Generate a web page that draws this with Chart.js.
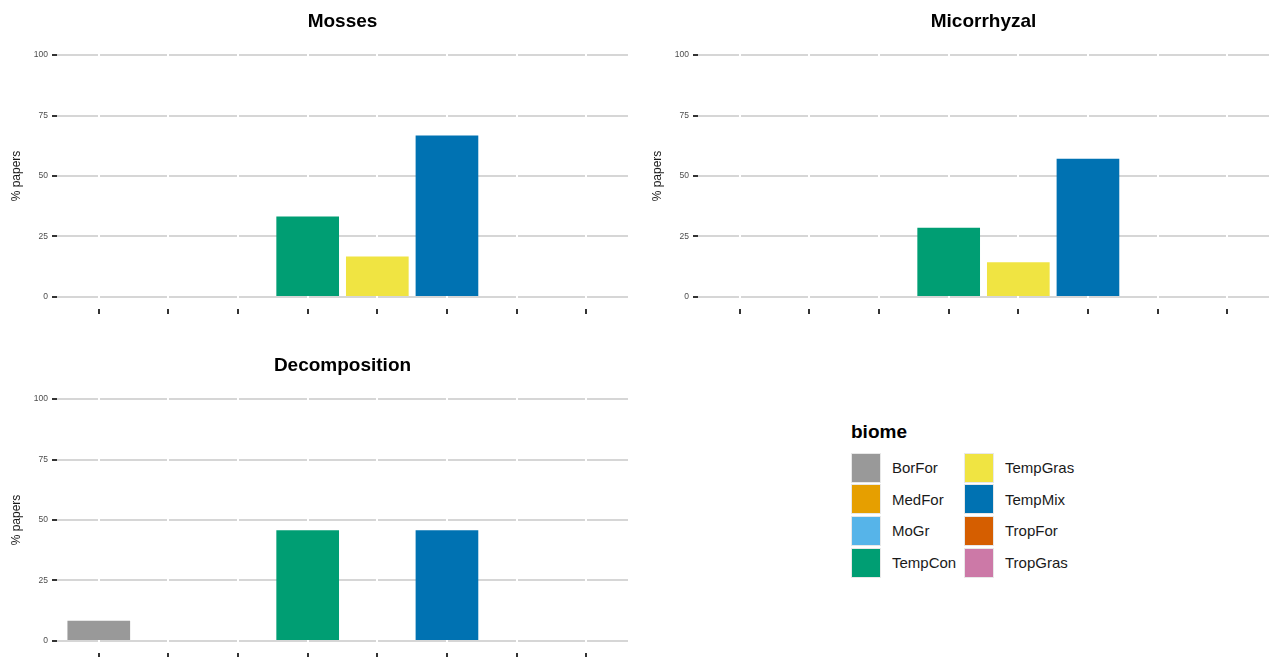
<!DOCTYPE html>
<html>
<head>
<meta charset="utf-8">
<script src="https://cdn.jsdelivr.net/npm/chart.js@4/dist/chart.umd.min.js"></script>
<style>
  body { margin: 0; width: 1269px; height: 657px; overflow: hidden; background: #fff; position: relative; font-family: "Liberation Sans", Arial, sans-serif; }
  .panel { position: absolute; width: 641px; height: 344px; }
  #legend { position: absolute; left: 851px; top: 420px; color: #000; }
  #legend h3 { margin: 0 0 8px 0; font-size: 19px; font-weight: bold; line-height: 24px; }
  #legend .cols { display: flex; }
  #legend .col { width: 113px; }
  #legend .row { display: flex; align-items: center; height: 31.6px; font-size: 15px; color: #1a1a1a; }
  #legend .key { width: 28px; height: 28px; border: 1px solid #e8e8e8; margin-right: 11px; }
</style>
</head>
<body>
<canvas id="mosses" class="panel" width="641" height="344" style="left:0;top:0"></canvas>
<canvas id="micorrhyzal" class="panel" width="641" height="344" style="left:641px;top:0"></canvas>
<canvas id="decomposition" class="panel" width="641" height="344" style="left:0;top:344px"></canvas>
<div id="legend">
  <h3>biome</h3>
  <div class="cols"></div>
</div>
<script>
// ===== data =====
const biomes = ["BorFor", "MedFor", "MoGr", "TempCon", "TempGras", "TempMix", "TropFor", "TropGras"];
const biomeColors = ["#999999", "#E69F00", "#56B4E9", "#009E73", "#F0E442", "#0072B2", "#D55E00", "#CC79A7"];
const mosses = [0, 0, 0, 33.3, 16.7, 66.7, 0, 0];
const micorrhyzal = [0, 0, 0, 28.6, 14.3, 57.1, 0, 0];
const decomposition = [8.3, 0, 0, 45.8, 0, 45.8, 0, 0];
const yTicks = [0, 25, 50, 75, 100];

const font = "'Liberation Sans', Arial, sans-serif";

function makePanel(id, title, values) {
  new Chart(document.getElementById(id), {
    type: 'bar',
    data: {
      datasets: [{
        data: values.map((v, i) => ({ x: i + 1, y: v })),
        backgroundColor: biomeColors,
        borderWidth: 0,
        barPercentage: 0.9,
        categoryPercentage: 1
      }]
    },
    options: {
      responsive: false,
      animation: false,
      devicePixelRatio: 1,
      layout: { padding: { left: 5, right: 13, top: 10, bottom: 0 } },
      plugins: {
        legend: { display: false },
        tooltip: { enabled: false },
        title: {
          display: true,
          text: title,
          fullSize: false,
          color: '#000',
          font: { family: font, size: 19, weight: 'bold' },
          padding: { top: 0, bottom: 10.2 }
        }
      },
      scales: {
        y: {
          type: 'linear',
          min: -5,
          max: 105,
          afterBuildTicks: s => { s.ticks = yTicks.map(v => ({ value: v })); },
          afterFit: s => { s.width = 52; },
          grid: { color: '#d6d6d6', lineWidth: 2, tickColor: '#333', tickLength: 5, tickWidth: 2, z: -1 },
          border: { display: false },
          ticks: { color: '#4d4d4d', font: { family: font, size: 8.5 }, padding: 4 },
          title: { display: true, text: '% papers', color: '#1a1a1a', font: { family: font, size: 12 }, padding: { top: 4, bottom: 0 } }
        },
        x: {
          type: 'linear',
          offset: false,
          min: 0.4,
          max: 8.6,
          afterBuildTicks: s => { s.ticks = biomes.map((b, i) => ({ value: i + 1 })); },
          afterFit: s => { s.height = 35; },
          grid: { offset: false, color: '#ffffff', lineWidth: 2, tickColor: '#333', tickLength: 5, tickWidth: 2 },
          border: { display: false },
          ticks: { display: false }
        }
      }
    }
  });
}

makePanel('mosses', 'Mosses', mosses);
makePanel('micorrhyzal', 'Micorrhyzal', micorrhyzal);
makePanel('decomposition', 'Decomposition', decomposition);

// ===== legend =====
const cols = document.querySelector('#legend .cols');
[0, 4].forEach(start => {
  const col = document.createElement('div');
  col.className = 'col';
  biomes.slice(start, start + 4).forEach((b, j) => {
    const row = document.createElement('div');
    row.className = 'row';
    row.innerHTML = `<div class="key" style="background:${biomeColors[start + j]}"></div><span>${b}</span>`;
    col.appendChild(row);
  });
  cols.appendChild(col);
});
</script>
</body>
</html>
